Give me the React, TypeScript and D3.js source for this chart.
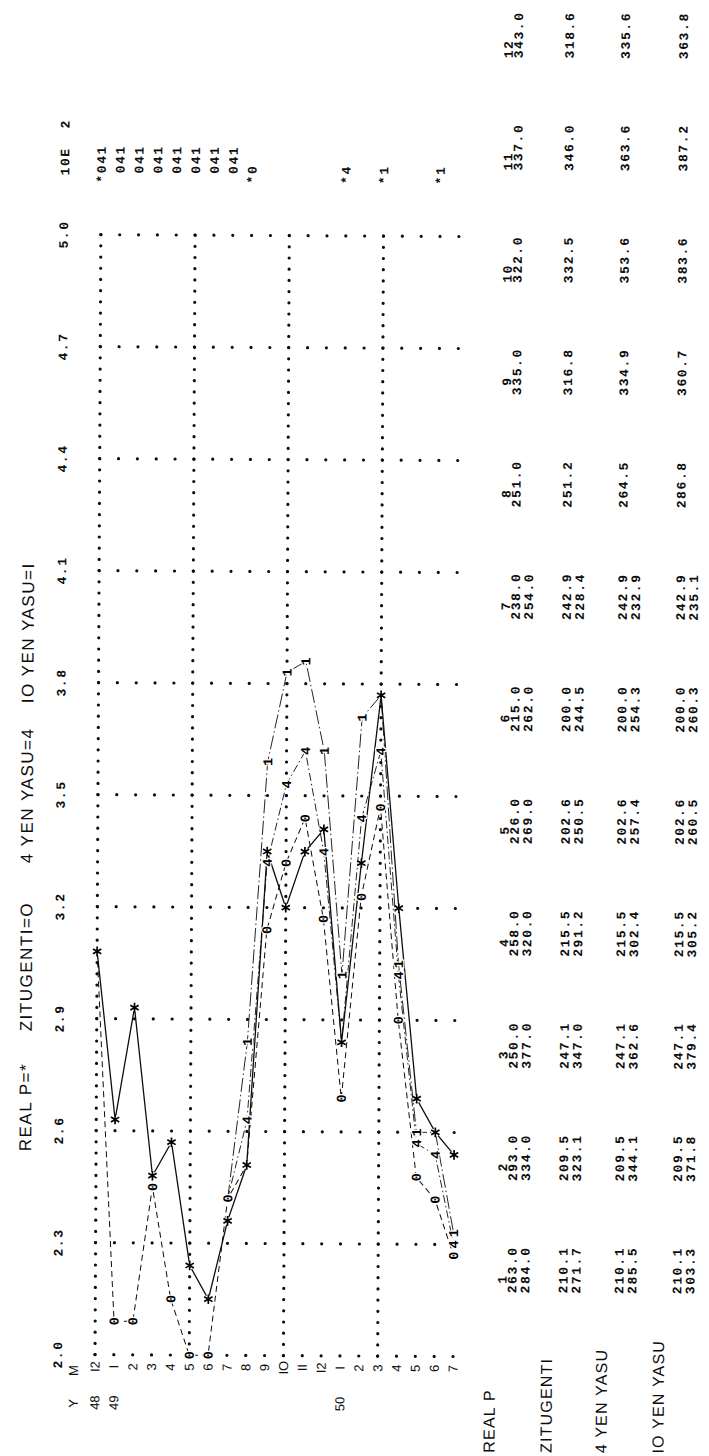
import { useEffect, useRef } from 'react';
import * as d3 from 'd3';

const W = 709;
const H = 1456;

// time axis, 48/12 .. 50/7 (one printer line per month)
const MONTHS = ['I2', 'I', '2', '3', '4', '5', '6', '7', '8', '9', 'IO', 'II', 'I2', 'I', '2', '3', '4', '5', '6', '7'];
const YEARS = [
  { at: 0, label: '48' },
  { at: 1, label: '49' },
  { at: 13, label: '50' },
];
const BOLD_COLUMNS = [0, 5, 10, 15];

// value axis in units of 10E 2
const VALUE_TICKS = [200, 230, 260, 290, 320, 350, 380, 410, 440, 470, 500];
const TICK_LABELS = ['2.0', '2.3', '2.6', '2.9', '3.2', '3.5', '3.8', '4.1', '4.4', '4.7', '5.0'];

const REAL_P = [308.0, 263.0, 293.0, 250.0, 258.0, 226.0, 215.0, 238.0, 251.0, 335.0, 322.0, 337.0, 343.0, 284.0, 334.0, 377.0, 320.0, 269.0, 262.0, 254.0];
const ZITUGENTI = [308.0, 210.1, 209.5, 247.1, 215.5, 202.6, 200.0, 242.9, 251.2, 316.8, 332.5, 346.0, 318.6, 271.7, 323.1, 347.0, 291.2, 250.5, 244.5, 228.4];
const YEN4_YASU = [308.0, 210.1, 209.5, 247.1, 215.5, 202.6, 200.0, 242.9, 264.5, 334.9, 353.6, 363.6, 335.6, 285.5, 344.1, 362.6, 302.4, 257.4, 254.3, 232.9];
const YEN10_YASU = [308.0, 210.1, 209.5, 247.1, 215.5, 202.6, 200.0, 242.9, 286.8, 360.7, 383.6, 387.2, 363.8, 303.3, 371.8, 379.4, 305.2, 260.5, 260.3, 235.1];

// printer's note of coinciding symbols, right of the 5.0 line
const OVERLAPS = [
  { at: 0, text: '*041' },
  { at: 1, text: ' 041' },
  { at: 2, text: ' 041' },
  { at: 3, text: ' 041' },
  { at: 4, text: ' 041' },
  { at: 5, text: ' 041' },
  { at: 6, text: ' 041' },
  { at: 7, text: ' 041' },
  { at: 8, text: '*0' },
  { at: 13, text: '*4' },
  { at: 15, text: '*1' },
  { at: 18, text: '*1' },
];

const LEGEND = ['REAL P=*', 'ZITUGENTI=O', '4 YEN YASU=4', 'IO YEN YASU=I'];
const TABLE_MONTHS = ['1', '2', '3', '4', '5', '6', '7', '8', '9', '10', '11', '12'];
const TABLE_LABELS = ['REAL P', 'ZITUGENTI', '4 YEN YASU', 'IO YEN YASU'];

const MONO = "'Liberation Mono', 'DejaVu Sans Mono', monospace";
const SANS = "'Liberation Sans', Arial, sans-serif";

function App() {
  const ref = useRef<SVGSVGElement>(null);

  useEffect(() => {
    const svg = d3.select(ref.current);
    svg.selectAll('*').remove();
    svg.append('rect').attr('width', W).attr('height', H).attr('fill', '#fff');

    // the printout lies on its side (and a little askew): draw upright, then turn it
    const g = svg
      .append('g')
      .attr('transform', `rotate(0.3,360,1356) translate(0,${H}) rotate(-90)`);

    const u = d3.scaleLinear().domain([200, 500]).range([100, 1220]);
    const v = d3.scalePoint<number>().domain(d3.range(MONTHS.length)).range([95, 453]);
    const CELL = 3; // one printer column = 0.03
    const snap = (val: number) => 200 + Math.floor((val - 200) / CELL + 1e-6) * CELL;

    const ink = '#0d0d0d';
    const numFont = `bold 13px ${MONO}`;

    // grid dots
    const cells = d3.range(0, 101).map((k) => 200 + k * CELL);
    BOLD_COLUMNS.forEach((c) => {
      g.append('g')
        .selectAll('circle')
        .data(cells)
        .join('circle')
        .attr('cx', (d) => u(d))
        .attr('cy', v(c)!)
        .attr('r', 1.6)
        .attr('fill', ink);
    });
    VALUE_TICKS.forEach((t) => {
      g.append('g')
        .selectAll('circle')
        .data(d3.range(MONTHS.length))
        .join('circle')
        .attr('cx', u(t))
        .attr('cy', (i) => v(i)!)
        .attr('r', 1.6)
        .attr('fill', ink);
    });

    // value labels
    g.append('g')
      .selectAll('text')
      .data(VALUE_TICKS)
      .join('text')
      .attr('x', (d) => u(d))
      .attr('y', 62)
      .attr('text-anchor', 'middle')
      .style('font', numFont)
      .style('letter-spacing', '1.6px')
      .attr('fill', ink)
      .text((d, i) => TICK_LABELS[i]);

    g.append('text')
      .attr('x', 1279)
      .attr('y', 63)
      .style('font', numFont)
      .style('letter-spacing', '1.6px')
      .style('white-space', 'pre')
      .attr('fill', ink)
      .text('10E  2');

    // legend line
    const legendStart = [303, 423, 591, 751];
    g.append('g')
      .selectAll('text')
      .data(LEGEND)
      .join('text')
      .attr('x', (d, i) => legendStart[i])
      .attr('y', 30)
      .style('font', `17px ${SANS}`)
      .style('letter-spacing', '1.5px')
      .attr('fill', ink)
      .text((d) => d);

    // time labels
    const axisFont = `13px ${SANS}`;
    g.append('text').attr('x', 51).attr('y', 78).attr('text-anchor', 'middle').style('font', axisFont).attr('fill', ink).text('Y');
    g.append('text').attr('x', 84).attr('y', 78).attr('text-anchor', 'middle').style('font', axisFont).attr('fill', ink).text('M');
    g.append('g')
      .selectAll('text')
      .data(MONTHS)
      .join('text')
      .attr('x', 88)
      .attr('y', (d, i) => v(i)! + 4.6)
      .attr('text-anchor', 'middle')
      .style('font', axisFont)
      .attr('fill', ink)
      .text((d) => d);
    g.append('g')
      .selectAll('text')
      .data(YEARS)
      .join('text')
      .attr('x', 52)
      .attr('y', (d) => v(d.at)! + 4.6)
      .attr('text-anchor', 'middle')
      .style('font', axisFont)
      .attr('fill', ink)
      .text((d) => d.label);

    // series lines
    const series = [
      { values: REAL_P, mark: '*', dash: null as string | null, width: 1.3 },
      { values: ZITUGENTI, mark: '0', dash: '6,4', width: 1 },
      { values: YEN4_YASU, mark: '4', dash: '8,3,1.5,3', width: 0.9 },
      { values: YEN10_YASU, mark: '1', dash: '14,3,1.5,3', width: 0.9 },
    ];
    const line = d3
      .line<[number, number]>()
      .x((d) => u(snap(d[1])))
      .y((d) => v(d[0])!);

    series.forEach((s, si) => {
      // the yen-rate forecasts only leave the ZITUGENTI path after 49/7
      let start = 0;
      if (si > 1) {
        const first = s.values.findIndex((val, i) => val !== ZITUGENTI[i]);
        start = Math.max(0, first - 1);
      }
      const pts = s.values.map((val, i) => [i, val] as [number, number]).slice(start);
      const path = g
        .append('path')
        .attr('d', line(pts))
        .attr('fill', 'none')
        .attr('stroke', ink)
        .attr('stroke-width', s.width);
      if (s.dash) path.attr('stroke-dasharray', s.dash);
    });

    // printed symbols: one per printer cell, first series wins
    const marks = g.append('g');
    d3.range(MONTHS.length).forEach((i) => {
      const taken = new Set<number>();
      series.forEach((s) => {
        const cell = snap(s.values[i]);
        if (taken.has(cell)) return;
        taken.add(cell);
        const cx = u(cell);
        const cy = v(i)!;
        if (s.mark === '*') {
          const r = 4.8;
          const star = [0, 60, 120]
            .map((a) => {
              const dx = r * Math.cos((a * Math.PI) / 180);
              const dy = r * Math.sin((a * Math.PI) / 180);
              return `M${cx - dx},${cy - dy}L${cx + dx},${cy + dy}`;
            })
            .join('');
          marks.append('circle').attr('cx', cx).attr('cy', cy).attr('r', 4).attr('fill', '#fff');
          marks.append('path').attr('d', star).attr('stroke', '#000').attr('stroke-width', 1.7);
        } else {
          marks
            .append('text')
            .attr('x', cx)
            .attr('y', cy + 4.5)
            .attr('text-anchor', 'middle')
            .style('font', `bold 13.5px ${MONO}`)
            .attr('fill', '#000')
            .attr('stroke', '#fff')
            .attr('stroke-width', 2.5)
            .attr('paint-order', 'stroke')
            .text(s.mark);
        }
      });
    });

    // overlap notes
    g.append('g')
      .selectAll('text')
      .data(OVERLAPS)
      .join('text')
      .attr('x', 1272)
      .attr('y', (d) => v(d.at)! + 4.5)
      .style('font', numFont)
      .style('letter-spacing', '1.6px')
      .style('white-space', 'pre')
      .attr('fill', ink)
      .text((d) => d.text);

    // value table
    const col = d3.scalePoint<string>().domain(TABLE_MONTHS).range([187, 1422]);
    const rowLabelY = [495, 552, 607, 664];
    const rowY = [
      [516, 529],
      [567, 580],
      [623, 636],
      [681, 694],
    ];
    g.append('g')
      .selectAll('text')
      .data(TABLE_LABELS)
      .join('text')
      .attr('x', 4)
      .attr('y', (d, i) => rowLabelY[i])
      .style('font', `16px ${SANS}`)
      .style('letter-spacing', '1.2px')
      .attr('fill', ink)
      .text((d) => d);

    g.append('g')
      .selectAll('text')
      .data(TABLE_MONTHS)
      .join('text')
      .attr('x', (d) => col(d)! - 23.5 + 18.8)
      .attr('y', 506)
      .attr('text-anchor', 'end')
      .style('font', numFont)
      .style('letter-spacing', '1.6px')
      .attr('fill', ink)
      .text((d) => d);

    series.forEach((s, si) => {
      const cellsOut: { m: string; y: number; text: string }[] = [];
      TABLE_MONTHS.forEach((m, k) => {
        cellsOut.push({ m, y: rowY[si][0], text: s.values[k + 1].toFixed(1) });
        const second = s.values[k + 13];
        if (second !== undefined) cellsOut.push({ m, y: rowY[si][1], text: second.toFixed(1) });
      });
      g.append('g')
        .selectAll('text')
        .data(cellsOut)
        .join('text')
        .attr('x', (d) => col(d.m)! - 23.5)
        .attr('y', (d) => d.y)
        .style('font', numFont)
        .style('letter-spacing', '1.6px')
        .attr('fill', ink)
        .text((d) => d.text);
    });
  }, []);

  return (
    <div style={{ position: 'absolute', left: 0, top: 0 }}>
      <svg ref={ref} width={W} height={H} style={{ display: 'block' }}></svg>
    </div>
  );
}

export default App;
